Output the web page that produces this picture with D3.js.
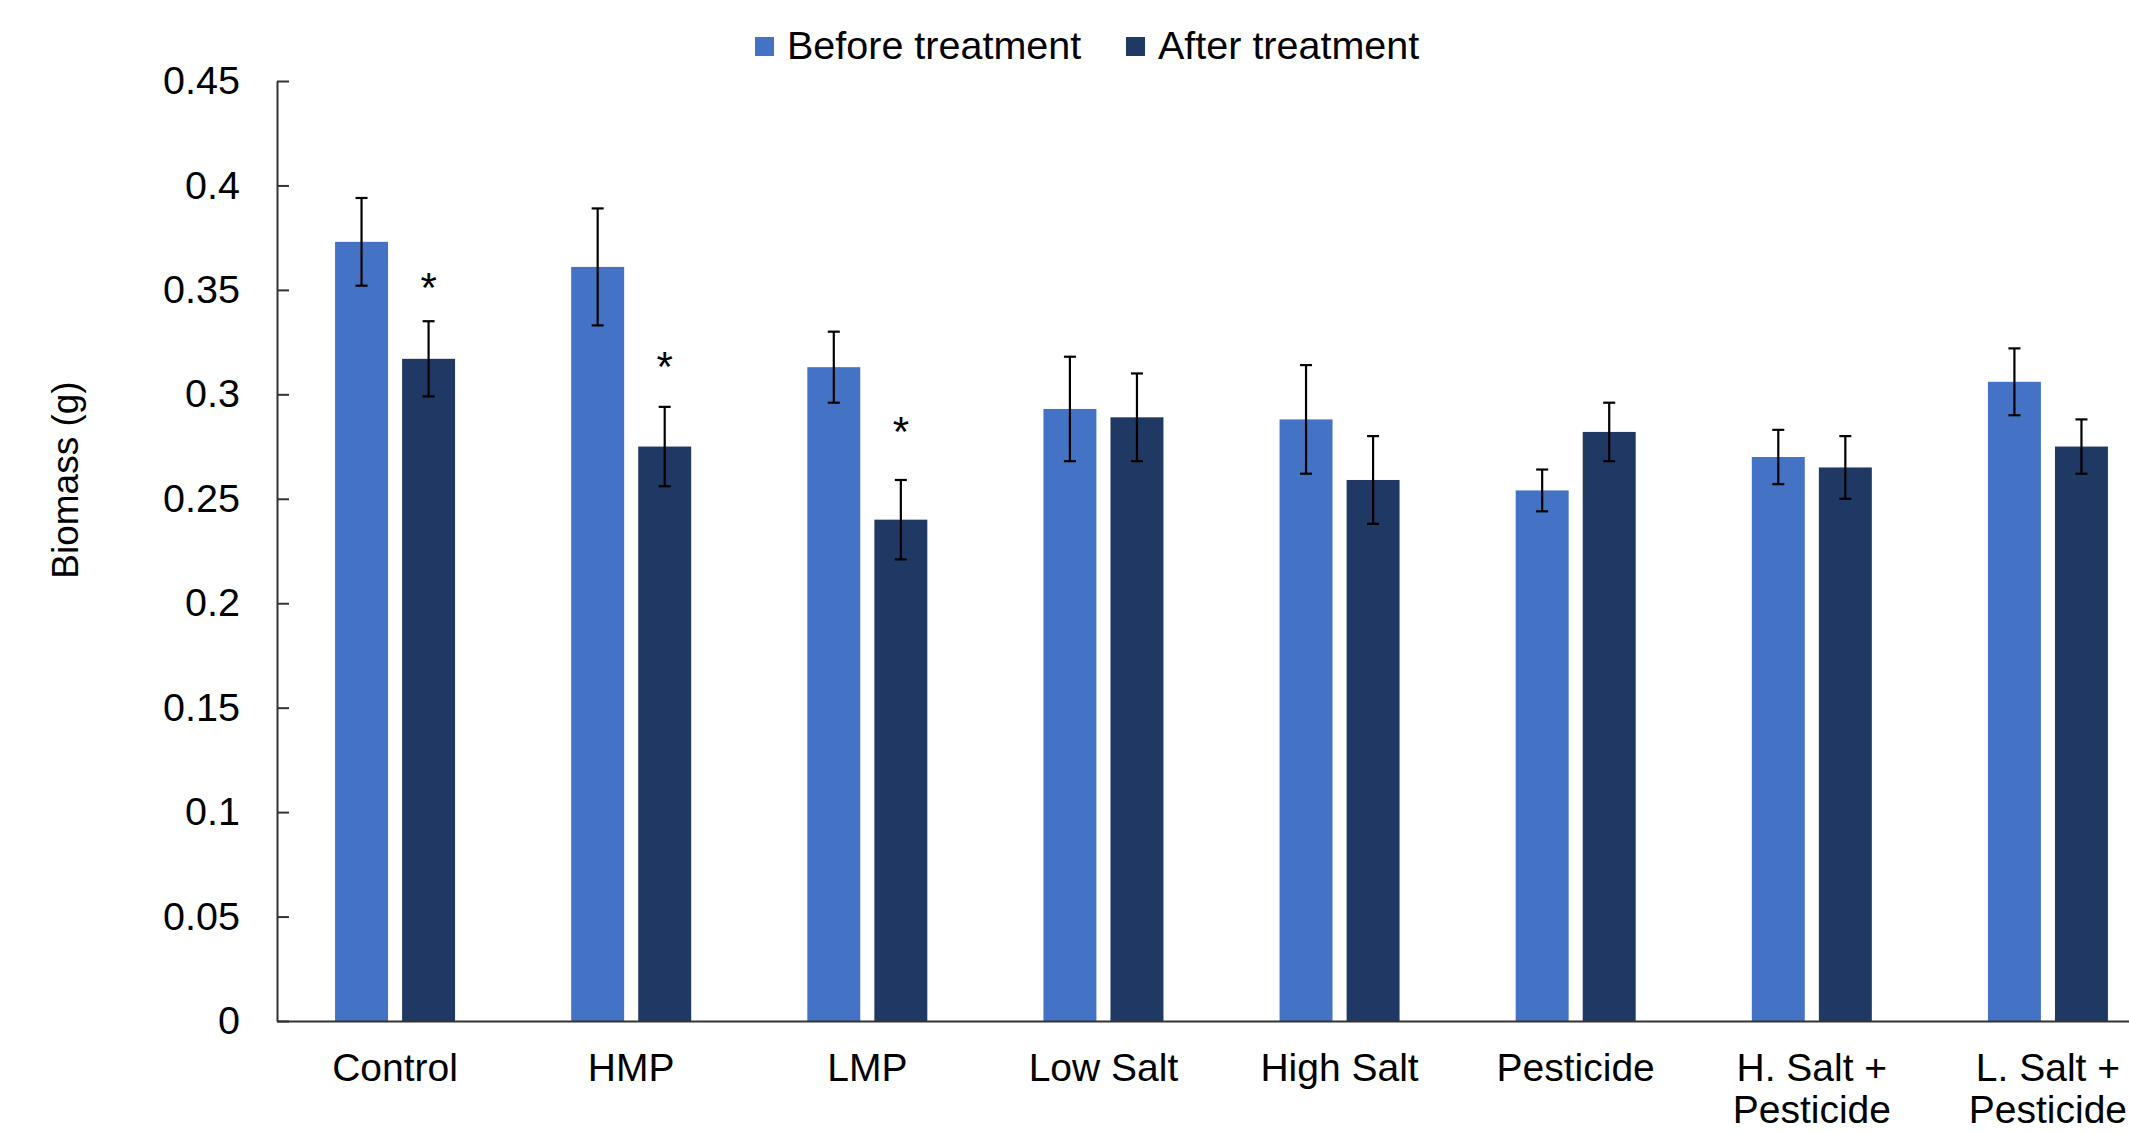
<!DOCTYPE html>
<html>
<head>
<meta charset="utf-8">
<script src="https://cdn.jsdelivr.net/npm/d3@7"></script>
<style>
  html, body { margin: 0; padding: 0; background: #ffffff; }
  svg { display: block; }
  text { font-family: "Liberation Sans", Arial, Helvetica, sans-serif; fill: #000; }
</style>
</head>
<body>
<svg id="chart" width="2129" height="1133"></svg>
<script>
// Treatment groups (multi-line labels are split per line)
const categories = ["Control", "HMP", "LMP", "Low Salt", "High Salt", "Pesticide", "H. Salt + Pesticide", "L. Salt + Pesticide"];
const categoryLines = [["Control"], ["HMP"], ["LMP"], ["Low Salt"], ["High Salt"], ["Pesticide"], ["H. Salt +", "Pesticide"], ["L. Salt +", "Pesticide"]];

// Series
const seriesKeys = ["before", "after"];
const seriesNames = ["Before treatment", "After treatment"];
const seriesColors = ["#4472C4", "#203864"];

// Mean biomass (g) and error (±)
const beforeValues = [0.373, 0.361, 0.313, 0.293, 0.288, 0.254, 0.270, 0.306];
const beforeErrors = [0.021, 0.028, 0.017, 0.025, 0.026, 0.010, 0.013, 0.016];
const afterValues  = [0.317, 0.275, 0.240, 0.289, 0.259, 0.282, 0.265, 0.275];
const afterErrors  = [0.018, 0.019, 0.019, 0.021, 0.021, 0.014, 0.015, 0.013];

// Significance markers: group and the value level the star sits at
const sigCategories = ["Control", "HMP", "LMP"];
const sigLevels = [0.356, 0.318, 0.287];

// Y axis ticks
const yTicks = [0, 0.05, 0.1, 0.15, 0.2, 0.25, 0.3, 0.35, 0.4, 0.45];
const yTickLabels = ["0", "0.05", "0.1", "0.15", "0.2", "0.25", "0.3", "0.35", "0.4", "0.45"];

const svg = d3.select("#chart");

const plot = { left: 277, right: 2166, top: 81, bottom: 1021 };

const x = d3.scaleBand().domain(categories).range([plot.left, plot.right]).paddingInner(0).paddingOuter(0);
const groupHalf = 60;
const xs = d3.scaleBand().domain(seriesKeys)
  .range([x.bandwidth() / 2 - groupHalf, x.bandwidth() / 2 + groupHalf])
  .paddingInner(0.21);
const y = d3.scaleLinear().domain([0, 0.45]).range([plot.bottom, plot.top]);

const rows = [];
categories.forEach((c, i) => {
  rows.push({ cat: c, key: "before", color: seriesColors[0], value: beforeValues[i], err: beforeErrors[i] });
  rows.push({ cat: c, key: "after", color: seriesColors[1], value: afterValues[i], err: afterErrors[i] });
});

// Bars
svg.append("g").selectAll("rect").data(rows).join("rect")
  .attr("x", d => x(d.cat) + xs(d.key))
  .attr("y", d => y(d.value))
  .attr("width", xs.bandwidth())
  .attr("height", d => y(0) - y(d.value))
  .attr("fill", d => d.color);

// Error bars
const capHalf = 6;
const eg = svg.append("g").attr("stroke", "#000").attr("stroke-width", 2.2).attr("fill", "none");
rows.forEach(d => {
  const cx = x(d.cat) + xs(d.key) + xs.bandwidth() / 2;
  const y1 = y(d.value + d.err), y2 = y(d.value - d.err);
  eg.append("line").attr("x1", cx).attr("x2", cx).attr("y1", y1).attr("y2", y2);
  eg.append("line").attr("x1", cx - capHalf).attr("x2", cx + capHalf).attr("y1", y1).attr("y2", y1);
  eg.append("line").attr("x1", cx - capHalf).attr("x2", cx + capHalf).attr("y1", y2).attr("y2", y2);
});

// Significance stars above the after-treatment bars
svg.append("g").selectAll("text").data(sigCategories).join("text")
  .attr("x", c => x(c) + xs("after") + xs.bandwidth() / 2)
  .attr("y", (c, i) => y(sigLevels[i]))
  .attr("dy", "0.58em")
  .attr("text-anchor", "middle")
  .style("font-size", "42px")
  .text("*");

// Y axis
const yAxis = svg.append("g")
  .attr("transform", `translate(${plot.left},0)`)
  .call(d3.axisLeft(y).tickValues(yTicks).tickFormat((d, i) => yTickLabels[i])
    .tickSizeInner(-12).tickSizeOuter(0).tickPadding(37));
yAxis.select(".domain").attr("stroke", "#333").attr("stroke-width", 2);
yAxis.selectAll(".tick line").attr("stroke", "#333").attr("stroke-width", 2);
yAxis.selectAll(".tick text").style("font-size", "39.5px").attr("fill", "#000");

// X axis line (category labels drawn below)
const xAxis = svg.append("g")
  .attr("transform", `translate(0,${plot.bottom})`)
  .call(d3.axisBottom(x).tickSize(0).tickFormat(""));
xAxis.select(".domain").attr("stroke", "#333").attr("stroke-width", 2);
xAxis.selectAll(".tick").remove();

// Category labels
const lab = svg.append("g").selectAll("text").data(categories).join("text")
  .attr("text-anchor", "middle")
  .attr("x", c => x(c) + x.bandwidth() / 2)
  .attr("y", 1081)
  .style("font-size", "39px");
lab.selectAll("tspan").data((c, i) => categoryLines[i]).join("tspan")
  .attr("x", function () { return d3.select(this.parentNode).attr("x"); })
  .attr("dy", (d, j) => j === 0 ? 0 : 42)
  .text(d => d);

// Y axis title
svg.append("text")
  .attr("transform", "translate(78,480) rotate(-90)")
  .attr("text-anchor", "middle")
  .style("font-size", "37px")
  .text("Biomass (g)");

// Legend
const legendX = [755, 1126];
const legend = svg.append("g").selectAll("g").data(seriesNames).join("g")
  .attr("transform", (d, i) => `translate(${legendX[i]},0)`);
legend.append("rect")
  .attr("x", 0).attr("y", 37).attr("width", 19).attr("height", 19)
  .attr("fill", (d, i) => seriesColors[i]);
legend.append("text")
  .attr("x", 32).attr("y", 59)
  .style("font-size", "39.5px")
  .text(d => d);
</script>
</body>
</html>
